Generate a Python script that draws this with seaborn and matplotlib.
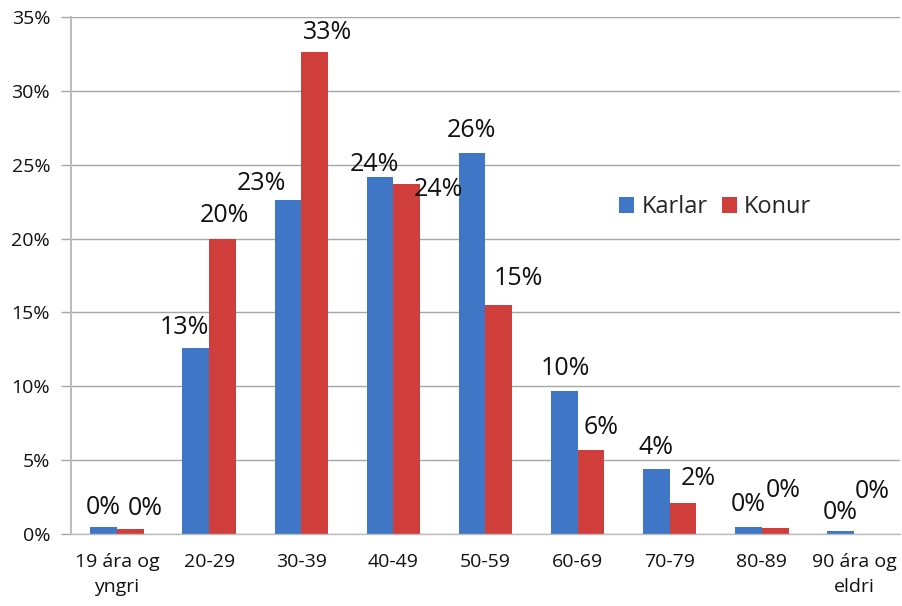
import numpy as np
import pandas as pd
import matplotlib
matplotlib.use("Agg")
import matplotlib.pyplot as plt
import seaborn as sns

categories = ["19 ára og\nyngri", "20-29", "30-39", "40-49", "50-59", "60-69", "70-79", "80-89", "90 ára og\neldri"]
karlar = [0.45, 12.6, 22.6, 24.2, 25.8, 9.7, 4.4, 0.5, 0.2]
konur = [0.35, 20.0, 32.6, 23.7, 15.5, 5.7, 2.1, 0.4, 0.0]
karlar_labels = ["0%", "13%", "23%", "24%", "26%", "10%", "4%", "0%", "0%"]
konur_labels = ["0%", "20%", "33%", "24%", "15%", "6%", "2%", "0%", "0%"]
series = ["Karlar", "Konur"]
yticks = [0, 5, 10, 15, 20, 25, 30, 35]

sns.set_theme(style="white")
plt.rcParams["font.family"] = ["Open Sans", "DejaVu Sans"]

df = pd.DataFrame({
    "cat": categories * 2,
    "val": karlar + konur,
    "ser": [series[0]] * len(categories) + [series[1]] * len(categories),
})

fig = plt.figure(figsize=(9.03, 6.06), dpi=100)
ax = fig.add_axes([0.0786, 0.1188, 0.9181, 0.8532])
colors = {"Karlar": "#3f76c6", "Konur": "#cf3e3a"}
sns.barplot(data=df, x="cat", y="val", hue="ser", order=categories, hue_order=series,
            palette=colors, width=0.58, gap=0, dodge=True, ax=ax, saturation=1,
            edgecolor="none")

ax.set_xlim(-0.5, len(categories) - 0.5)
ax.set_ylim(0, 35)
ax.set_yticks(yticks)
ax.set_yticklabels([f"{v}%" for v in yticks], fontsize=14, color="#111111")
ax.set_xticks(range(len(categories)))
ax.set_xticklabels(categories, fontsize=14, color="#111111", linespacing=1.45)
ax.set_xticks(np.arange(-0.5, len(categories)), minor=True)
ax.tick_params(axis="x", which="major", length=0, pad=14)
ax.tick_params(axis="x", which="minor", length=7, color="#bdbdbd", width=1)
ax.tick_params(axis="y", which="major", length=7, color="#a6a6a6", width=1, pad=8, left=True)
ax.set_xlabel("")
ax.set_ylabel("")
ax.yaxis.grid(True, color="#a6a6a6", linewidth=1)
ax.set_axisbelow(True)
for s in ["top", "right"]:
    ax.spines[s].set_visible(False)
ax.spines["left"].set_color("#bdbdbd")
ax.spines["left"].set_linewidth(1.5)
ax.spines["bottom"].set_color("#bdbdbd")
ax.spines["bottom"].set_linewidth(1)

# data labels: offsets (pixels) of label centre from bar-top centre
k_dx = [0, -11, -26, -6, -1, 1, 0, 0, 0]
k_dy = [20, 20, 17, 12, 22, 22, 22, 22, 19]
w_dx = [15, 2, 13, 32, 20, 10, 15, 8, 5]
w_dy = [20, 23, 20, -6, 27, 22, 24, 38, 43]
kbars = sorted(ax.containers[0], key=lambda p: p.get_x())
wbars = sorted(ax.containers[1], key=lambda p: p.get_x())
for bars, labs, dxs, dys in [(kbars, karlar_labels, k_dx, k_dy), (wbars, konur_labels, w_dx, w_dy)]:
    for b, lab, dx, dy in zip(bars, labs, dxs, dys):
        ax.annotate(lab, xy=(b.get_x() + b.get_width() / 2, b.get_height()),
                    xytext=(dx * 0.72, dy * 0.72), textcoords="offset points",
                    ha="center", va="center", fontsize=18, color="#111111")

leg = ax.legend(loc="center", bbox_to_anchor=(0.777, 0.632), ncol=2, frameon=False,
                fontsize=17, handlelength=0.65, handleheight=0.65, handletextpad=0.3,
                columnspacing=0.6)

fig.savefig("out.png", dpi=100)
